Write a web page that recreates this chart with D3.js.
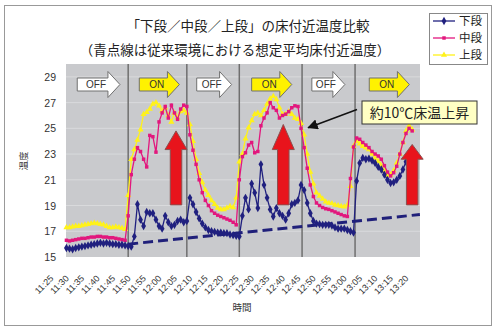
<!DOCTYPE html>
<html><head><meta charset="utf-8">
<script src="https://cdn.jsdelivr.net/npm/d3@7"></script>
<style>body{margin:0;background:#fff}</style>
</head><body><svg id="c" width="498" height="331"></svg>
<script>
// ---------------- data ----------------
const startTime = "11:30";               // first reading; one reading per minute
const seriesNames = ["下段", "中段", "上段"];
const lowerValues = [
 15.7,15.65,15.6,15.7,15.75,15.8,15.85,15.9,15.95,16.0,16.05,16.1,16.05,16.1,16.05,16.0,16.0,15.95,15.95,15.9,
 15.85,15.8,16.6,19.1,17.9,17.4,18.5,18.4,18.4,17.9,17.4,17.2,18.2,17.7,17.4,17.5,17.8,17.9,17.7,17.8,
 19.6,19.1,18.5,18.0,17.6,17.3,17.1,17.0,16.95,16.9,16.9,16.85,16.85,16.75,16.7,16.65,16.6,
 18.2,19.6,18.7,20.7,20.0,18.8,22.2,20.6,19.6,18.7,18.15,18.8,18.4,18.2,17.9,18.4,19.1,19.2,19.4,20.6,20.2,19.2,
 18.4,17.8,17.6,17.55,17.5,17.5,17.5,17.45,17.3,17.2,17.2,17.2,17.1,17.0,16.9,
 20.9,22.3,22.7,22.6,22.65,22.5,22.3,22.0,21.8,21.4,21.0,20.75,20.8,21.0,21.3,21.8,22.4
];
const middleValues = [
 16.3,16.25,16.3,16.35,16.4,16.45,16.45,16.5,16.55,16.55,16.6,16.6,16.55,16.55,16.5,16.5,16.45,16.4,16.35,16.3,
 18.2,21.4,22.6,23.5,23.2,22.6,22.0,24.45,24.35,23.15,25.5,26.2,26.7,25.8,26.8,26.2,25.7,26.5,26.8,26.7,
 24.5,23.3,22.2,21.0,20.0,19.4,19.0,18.6,18.4,18.25,18.15,18.05,17.95,17.85,17.7,17.5,
 21.0,22.8,23.1,23.7,23.9,23.1,23.2,25.2,25.8,26.2,27.0,26.6,26.4,25.8,26.0,26.1,26.3,26.6,26.75,26.7,
 25.0,23.5,21.9,20.6,19.7,19.2,19.0,18.85,18.75,18.7,18.6,18.5,18.4,18.3,18.2,18.15,
 21.1,23.55,24.25,24.15,23.9,23.7,23.5,23.2,23.0,22.85,22.6,22.1,21.6,21.3,21.55,22.05,23.0,23.9,24.6,25.0,24.8
];
const upperValues = [
 17.3,17.3,17.35,17.4,17.4,17.45,17.5,17.55,17.6,17.65,17.6,17.55,17.5,17.4,17.3,17.3,17.35,17.3,17.25,17.15,
 19.8,22.6,23.35,24.1,24.9,26.1,26.25,26.5,26.9,27.0,26.75,26.35,26.6,26.0,25.5,26.2,25.8,26.3,26.4,26.2,
 25.3,24.0,22.6,21.5,20.8,20.2,19.8,19.4,19.1,18.8,18.7,18.7,18.8,18.95,18.85,19.6,
 22.4,23.0,24.2,25.05,25.6,26.1,26.2,26.0,26.4,26.9,27.3,27.5,27.25,26.6,26.1,26.1,26.3,26.1,25.8,25.7,
 25.4,24.5,23.0,21.6,20.7,20.0,19.75,19.5,19.3,19.2,19.15,19.05,19.0,18.95,18.9,19.05,
 20.5,23.6,24.0,23.8,23.6,23.5,23.35,23.0,22.7,22.45,22.1,21.7,21.35,21.4,21.7,22.3,23.0,23.9,24.8,25.2,24.9
];
const tickLabels = ["11:25","11:30","11:35","11:40","11:45","11:50","11:55","12:00","12:05","12:10","12:15","12:20",
 "12:25","12:30","12:35","12:40","12:45","12:50","12:55","13:00","13:05","13:10","13:15","13:20"];
const yTicks = [15, 17, 19, 21, 23, 25, 27, 29];
const yDomain = [15, 30];
const switchTimes = ["11:50", "12:09", "12:26", "12:46:20", "13:03:30"];
const stateLabels = ["OFF", "ON", "OFF", "ON", "OFF", "ON"];
const stateStart = ["11:33:30", "11:53:36", "12:12:12", "12:30:00", "12:49:30", "13:08:06"];
const stateEnd   = ["11:47:20", "12:06:36", "12:23:30", "12:43:00", "13:00:12", "13:21:06"];
const riseTimes = ["12:05:30", "12:40:15", "13:22:00"];
const riseTop = [24.8, 25.3, 23.75];
const riseHeadBase = [23.35, 23.35, 22.6];
const riseBottom = [19.05, 19.05, 19.05];
const baselineTimes = ["11:50", "13:24:30"];
const baselineValues = [16.0, 18.3];
const title1 = "「下段／中段／上段」の床付近温度比較";
const title2 = "（青点線は従来環境における想定平均床付近温度）";
const calloutText = "約10℃床温上昇";
const calloutTarget = ["12:48:20", 25.05];
const xTitle = "時間", yTitle = "温度";

// ---------------- helpers ----------------
const toMin = s => { const p = s.split(":").map(Number); return p[0]*60 + p[1] + (p[2]||0)/60; };
const t0 = toMin(startTime);
const JP = "'Noto Sans CJK JP', sans-serif";
const NUM = "'Liberation Sans', Arial, sans-serif";

const svg = d3.select("#c");
const plot = {l: 66, r: 420, t: 64, b: 257};
const x = d3.scaleLinear().domain([toMin("11:25"), toMin("13:20")]).range([51, 406]);
const y = d3.scaleLinear().domain(yDomain).range([plot.b, plot.t]);

// outer border
svg.append("rect").attr("x", 4.5).attr("y", 5.5).attr("width", 487).attr("height", 320)
  .attr("fill", "#fff").attr("stroke", "#999");

// plot area
svg.append("rect").attr("x", plot.l).attr("y", plot.t).attr("width", plot.r - plot.l).attr("height", plot.b - plot.t)
  .attr("fill", "#c9cacd");
svg.append("g").selectAll("line").data(yTicks.slice(1)).join("line")
  .attr("x1", plot.l).attr("x2", plot.r).attr("y1", d => y(d)).attr("y2", d => y(d))
  .attr("stroke", "#d9dadc").attr("stroke-width", 1);

// y tick labels
svg.append("g").selectAll("text").data(yTicks).join("text")
  .attr("x", 56).attr("y", d => y(d) + 4).attr("text-anchor", "end")
  .attr("font-family", NUM).attr("font-size", 10.5).attr("fill", "#333").text(d => d);

// x tick labels
svg.append("g").selectAll("text").data(tickLabels).join("text")
  .attr("transform", d => `translate(${x(toMin(d)) + 3},279) rotate(-45)`)
  .attr("text-anchor", "end").attr("font-family", NUM).attr("font-size", 9).attr("fill", "#333").text(d => d);

// axis titles
svg.append("text").attr("x", 242).attr("y", 311).attr("text-anchor", "middle")
  .attr("font-family", JP).attr("font-size", 9.5).attr("fill", "#333").text(xTitle);
svg.append("text").attr("transform", "translate(27,161) rotate(-90)").attr("text-anchor", "middle")
  .attr("font-family", JP).attr("font-size", 9.5).attr("fill", "#333").text(yTitle);

// switch lines
svg.append("g").selectAll("line").data(switchTimes).join("line")
  .attr("x1", d => x(toMin(d))).attr("x2", d => x(toMin(d))).attr("y1", plot.t).attr("y2", plot.b)
  .attr("stroke", "#6f6f6f").attr("stroke-width", 1.5);

// baseline dashed
svg.append("path").datum(baselineTimes.map((t, i) => [toMin(t), baselineValues[i]]))
  .attr("d", d3.line().x(d => x(d[0])).y(d => y(d[1])))
  .attr("stroke", "#20207a").attr("stroke-width", 3).attr("stroke-dasharray", "10,5").attr("fill", "none");

// series
const series = [
  {name: seriesNames[0], values: lowerValues, color: "#20207f", sym: d3.symbolDiamond, size: 20},
  {name: seriesNames[1], values: middleValues, color: "#e2177d", sym: d3.symbolSquare, size: 12},
  {name: seriesNames[2], values: upperValues, color: "#fff21a", sym: d3.symbolTriangle, size: 16}
];
const lineGen = d3.line().x((d, i) => x(t0 + i)).y(d => y(d));
[2, 1, 0].forEach(k => {
  const s = series[k];
  const g = svg.append("g");
  g.append("path").datum(s.values).attr("d", lineGen).attr("fill", "none")
    .attr("stroke", s.color).attr("stroke-width", 1.3);
  g.selectAll("path.m").data(s.values).join("path").attr("class", "m")
    .attr("transform", (d, i) => `translate(${x(t0 + i)},${y(d)})`)
    .attr("d", d3.symbol().type(s.sym).size(s.size)).attr("fill", s.color);
});

// ON/OFF arrows
const aTop = 78, aBot = 91, hTop = 71.5, hBot = 97.5, hLen = 12;
stateLabels.forEach((lab, i) => {
  const x0 = x(toMin(stateStart[i])), x1 = x(toMin(stateEnd[i])), xh = x1 - hLen, ym = (aTop + aBot) / 2;
  const p = d3.path();
  p.moveTo(x0, aTop); p.lineTo(xh, aTop); p.lineTo(xh, hTop); p.lineTo(x1, ym);
  p.lineTo(xh, hBot); p.lineTo(xh, aBot); p.lineTo(x0, aBot); p.closePath();
  svg.append("path").attr("d", p.toString()).attr("fill", lab === "ON" ? "#fff200" : "#ffffff")
    .attr("stroke", "#707070").attr("stroke-width", 1);
  svg.append("text").attr("x", (x0 + x1) / 2 - 2.5).attr("y", ym + 3.8).attr("text-anchor", "middle")
    .attr("font-family", NUM).attr("font-size", 10).attr("fill", "#333").text(lab);
});

// red rise arrows
riseTimes.forEach((t, i) => {
  const cx = x(toMin(t)), bw = 5.75, hw = 11;
  const p = d3.path();
  p.moveTo(cx - bw, y(riseBottom[i])); p.lineTo(cx - bw, y(riseHeadBase[i])); p.lineTo(cx - hw, y(riseHeadBase[i]));
  p.lineTo(cx, y(riseTop[i])); p.lineTo(cx + hw, y(riseHeadBase[i])); p.lineTo(cx + bw, y(riseHeadBase[i]));
  p.lineTo(cx + bw, y(riseBottom[i])); p.closePath();
  svg.append("path").attr("d", p.toString()).attr("fill", "#e8141c").attr("stroke", "#8a5050").attr("stroke-width", 1);
});

// callout
svg.append("defs").append("marker").attr("id", "ah").attr("viewBox", "0 0 10 10").attr("refX", 9).attr("refY", 5)
  .attr("markerWidth", 7).attr("markerHeight", 7).attr("orient", "auto")
  .append("path").attr("d", "M0,0L10,5L0,10z").attr("fill", "#111");
svg.append("line").attr("x1", 357).attr("y1", 109.5)
  .attr("x2", x(toMin(calloutTarget[0]))).attr("y2", y(calloutTarget[1]))
  .attr("stroke", "#111").attr("stroke-width", 1.5).attr("marker-end", "url(#ah)");
svg.append("rect").attr("x", 362).attr("y", 101).attr("width", 115).attr("height", 23)
  .attr("fill", "#ffffc4").attr("stroke", "#333").attr("stroke-width", 1);
svg.append("text").attr("x", 419.5).attr("y", 117.5).attr("text-anchor", "middle")
  .attr("font-family", JP).attr("font-size", 14).attr("fill", "#222").text(calloutText);

// titles
svg.append("text").attr("x", 248).attr("y", 31).attr("text-anchor", "middle")
  .attr("font-family", JP).attr("font-size", 13.5).attr("fill", "#222").text(title1);
svg.append("text").attr("x", 235).attr("y", 55).attr("text-anchor", "middle")
  .attr("font-family", JP).attr("font-size", 13.5).attr("fill", "#222").text(title2);

// legend
svg.append("rect").attr("x", 429.5).attr("y", 13.5).attr("width", 58).attr("height", 51)
  .attr("fill", "#fff").attr("stroke", "#888");
series.forEach((s, i) => {
  const ly = 21 + i * 17;
  svg.append("line").attr("x1", 433).attr("x2", 455).attr("y1", ly).attr("y2", ly)
    .attr("stroke", s.color).attr("stroke-width", 1.3);
  svg.append("path").attr("transform", `translate(444,${ly})`).attr("d", d3.symbol().type(s.sym).size(s.size))
    .attr("fill", s.color);
  svg.append("text").attr("x", 459).attr("y", ly + 4).attr("font-family", JP).attr("font-size", 11.5)
    .attr("fill", "#222").text(s.name);
});
</script></body></html>
